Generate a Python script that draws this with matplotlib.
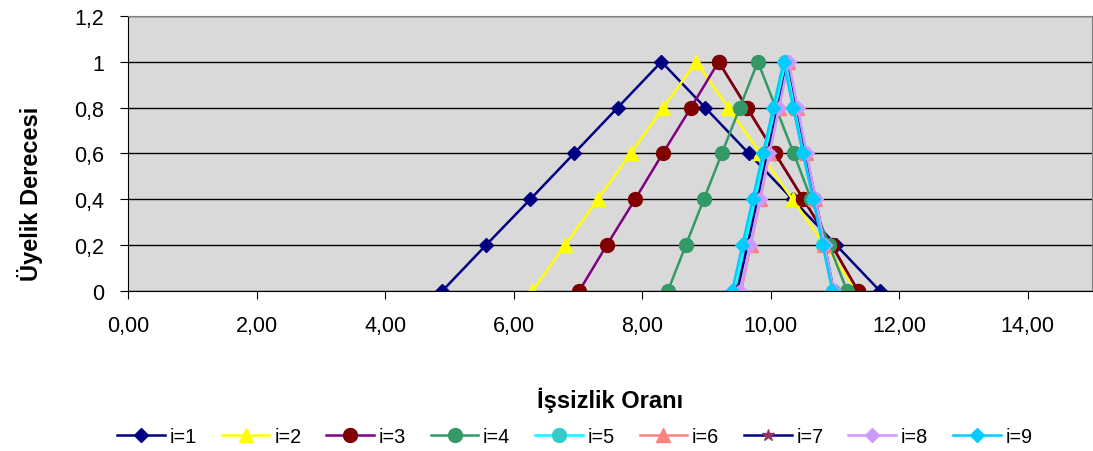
import numpy as np
import matplotlib.pyplot as plt
from matplotlib.ticker import FuncFormatter

plt.rcParams['font.family'] = ['Liberation Sans', 'DejaVu Sans']

# uyelik derecesi (ortak)
uyelik = [0, 0.2, 0.4, 0.6, 0.8, 1, 0.8, 0.6, 0.4, 0.2, 0]

# issizlik orani, her i icin
i1 = [4.89, 5.57, 6.26, 6.94, 7.62, 8.30, 8.98, 9.66, 10.34, 11.02, 11.70]
i2 = [6.29, 6.80, 7.31, 7.82, 8.33, 8.84, 9.34, 9.84, 10.34, 10.84, 11.34]
i3 = [7.02, 7.45, 7.89, 8.32, 8.76, 9.19, 9.63, 10.07, 10.51, 10.95, 11.36]
i4 = [8.40, 8.68, 8.96, 9.24, 9.52, 9.80, 10.08, 10.36, 10.63, 10.91, 11.19]
i5 = [9.45, 9.60, 9.76, 9.91, 10.07, 10.22, 10.37, 10.52, 10.67, 10.82, 10.97]
i6 = [9.54, 9.69, 9.84, 9.98, 10.13, 10.27, 10.41, 10.55, 10.69, 10.83, 10.97]
i7 = [9.48, 9.64, 9.80, 9.95, 10.11, 10.27, 10.41, 10.55, 10.70, 10.84, 10.98]
i8 = [9.53, 9.68, 9.83, 9.98, 10.13, 10.28, 10.42, 10.56, 10.70, 10.84, 10.98]
i9 = [9.40, 9.56, 9.72, 9.88, 10.04, 10.20, 10.35, 10.50, 10.66, 10.81, 10.96]

seriler = [i1, i2, i3, i4, i5, i6, i7, i8, i9]
etiketler = ["i=1", "i=2", "i=3", "i=4", "i=5", "i=6", "i=7", "i=8", "i=9"]

# (cizgi rengi, marker, marker rengi, boyut)
stiller = [
    ("#000080", "D", "#000080", 7),
    ("#FFFF00", "^", "#FFFF00", 10),
    ("#800080", "o", "#800000", 10),
    ("#339966", "o", "#339966", 10),
    ("#00FFFF", "o", "#33CCCC", 10),
    ("#FF8080", "^", "#FF8080", 10),
    ("#000080", "*", "#993366", 9),
    ("#CC99FF", "D", "#CC99FF", 7),
    ("#00CCFF", "D", "#00CCFF", 7),
]

fig = plt.figure(figsize=(10.93, 4.52), dpi=100)
ax = fig.add_axes([0.1171, 0.354, 0.882, 0.6086])
ax.set_facecolor("#D9D9D9")

for x, lab, (lc, m, mc, ms) in zip(seriler, etiketler, stiller):
    if m == "*":
        ax.plot(x, uyelik, color=lc, lw=1.8, marker="x", ms=6, mec=mc, mew=1.5)
        ax.plot(x, uyelik, color=lc, lw=0, marker="+", ms=8, mec=mc, mew=1.5)
        ax.plot([], [], color=lc, lw=1.8, marker=m, ms=ms, mfc=mc, mec=mc, label=lab)
    else:
        ax.plot(x, uyelik, color=lc, lw=1.8, marker=m, ms=ms, mfc=mc, mec=mc, label=lab)
    if lab == "i=3":
        # inen kol koyu kirmizi gorunuyor
        ax.plot(x[5:], uyelik[5:], color="#800000", lw=1.8, marker=m, ms=ms, mfc=mc, mec=mc)

ax.set_xlim(0, 15)
ax.set_ylim(0, 1.2)
ax.set_xticks(np.arange(0, 15, 2))
ax.set_yticks(np.arange(0, 1.21, 0.2))
ax.xaxis.set_major_formatter(FuncFormatter(lambda v, p: ("%.2f" % v).replace(".", ",")))
ax.yaxis.set_major_formatter(FuncFormatter(lambda v, p: ("%g" % round(v, 1)).replace(".", ",")))
ax.grid(axis="y", color="black", lw=1)
ax.set_axisbelow(True)
for s in ax.spines.values():
    s.set_color("#808080")
ax.spines["left"].set_color("black")
ax.spines["bottom"].set_color("black")
ax.tick_params(labelsize=15.5, length=6, color="black", pad=11)

ax.set_xlabel("İşsizlik Oranı", fontsize=17, fontweight="bold", va="center")
ax.xaxis.set_label_coords(0.5, -0.393)
ax.set_ylabel("Üyelik Derecesi", fontsize=17, fontweight="bold", va="center")
ax.yaxis.set_label_coords(-0.1017, 0.355)

fig.legend(loc="center", bbox_to_anchor=(0.526, 0.033), ncol=9, frameon=False,
           fontsize=14.3, handlelength=2.4, columnspacing=1.25, handletextpad=0.24,
           borderpad=0, borderaxespad=0)

fig.savefig("out.png", dpi=100)
